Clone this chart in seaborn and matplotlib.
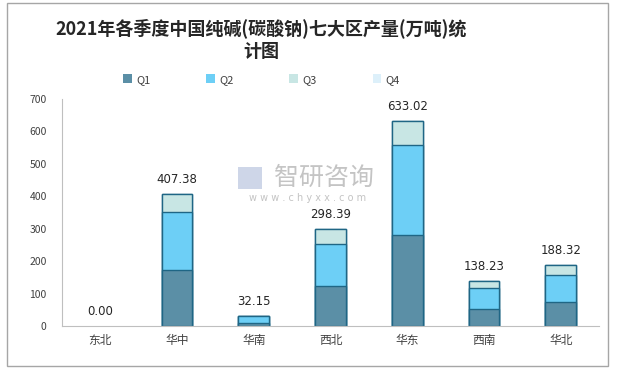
import matplotlib
matplotlib.use("Agg")
import matplotlib.pyplot as plt
import seaborn as sns
import pandas as pd
from matplotlib.patches import Rectangle, Patch

# data (万吨)
regions = ["东北", "华中", "华南", "西北", "华东", "西南", "华北"]
q1 = [0, 173, 8, 123, 281, 52, 74]
q2 = [0, 177, 24, 130, 277, 65, 83]
q3 = [0, 57.38, 0.15, 45.39, 75.02, 21.23, 31.32]
q4 = [0, 0, 0, 0, 0, 0, 0]
totals = ["0.00", "407.38", "32.15", "298.39", "633.02", "138.23", "188.32"]

colors = ["#5B8FA6", "#6DCFF6", "#C8E6E4", "#DDF0FA"]
edge = "#1F6685"

sns.set_style("white")
plt.rcParams['font.family'] = ['Noto Sans CJK SC', 'DejaVu Sans']

df = pd.DataFrame({"region": regions, "Q1": q1, "Q2": q2, "Q3": q3, "Q4": q4})
df["c1"] = df["Q1"]
df["c2"] = df["c1"] + df["Q2"]
df["c3"] = df["c2"] + df["Q3"]
df["c4"] = df["c3"] + df["Q4"]

fig = plt.figure(figsize=(6.17, 3.70), dpi=100)
ax = fig.add_axes([0.1005, 0.119, 0.8705, 0.6135])

# overlay cumulative bars, tallest first
for col, c in zip(["c4", "c3", "c2", "c1"], colors[::-1]):
    sns.barplot(data=df, x="region", y=col, color=c, width=0.4,
                edgecolor=edge, linewidth=1.0, saturation=1, ax=ax)
for p in ax.patches:
    if p.get_height() == 0:
        p.set_linewidth(0)

ax.set_ylim(0, 700)
ax.set_xlim(-0.5, 6.5)
ax.set_yticks(range(0, 701, 100))
ax.set_xlabel("")
ax.set_ylabel("")
ax.tick_params(axis="y", labelsize=7.5, labelcolor="#404040", length=0, pad=11)
ax.tick_params(axis="x", labelsize=8.5, labelcolor="#404040", length=0, pad=6)
ax.set_xticks([x - 0.5 for x in range(8)], minor=True)
ax.tick_params(axis="x", which="minor", length=5, color="#BFBFBF", width=1)
for s in ["top", "right"]:
    ax.spines[s].set_visible(False)
ax.spines["left"].set_color("#BFBFBF")
ax.spines["bottom"].set_color("#BFBFBF")

for i, t in enumerate(totals):
    ax.text(i, df["c4"][i] + 24, t, ha="center", va="bottom",
            fontsize=8.5, color="#262626", family="DejaVu Sans")

# watermark
fig.text(0.525, 0.519, "智研咨询", fontsize=18, color="#C4C4C4",
         ha="center", va="center")
fig.text(0.499, 0.466, "w w w . c h y x x . c o m", fontsize=7, color="#C4C4C4",
         ha="center", va="center", family="DejaVu Sans")
fig.patches.append(Rectangle((0.386, 0.488), 0.038, 0.06, transform=fig.transFigure,
                             facecolor="#C9D2E6", edgecolor="none", alpha=0.9))

# title
fig.text(0.423, 0.925, "2021年各季度中国纯碱(碳酸钠)七大区产量(万吨)统",
         fontsize=13, fontweight="bold", color="#262626", ha="center", va="center")
fig.text(0.423, 0.862, "计图", fontsize=13, fontweight="bold", color="#262626",
         ha="center", va="center")

handles = [Patch(facecolor=c, edgecolor="none") for c in colors]
fig.legend(handles, ["Q1", "Q2", "Q3", "Q4"], loc="center", bbox_to_anchor=(0.424, 0.785),
           ncol=4, frameon=False, fontsize=8, handlelength=0.8, handleheight=0.8,
           columnspacing=5.0, handletextpad=0.4, labelcolor="#404040")

fig.patches.append(Rectangle((0.012, 0.012), 0.973, 0.98, transform=fig.transFigure,
                             facecolor="none", edgecolor="#A6A6A6", linewidth=1))

fig.savefig("out.png", dpi=100)
